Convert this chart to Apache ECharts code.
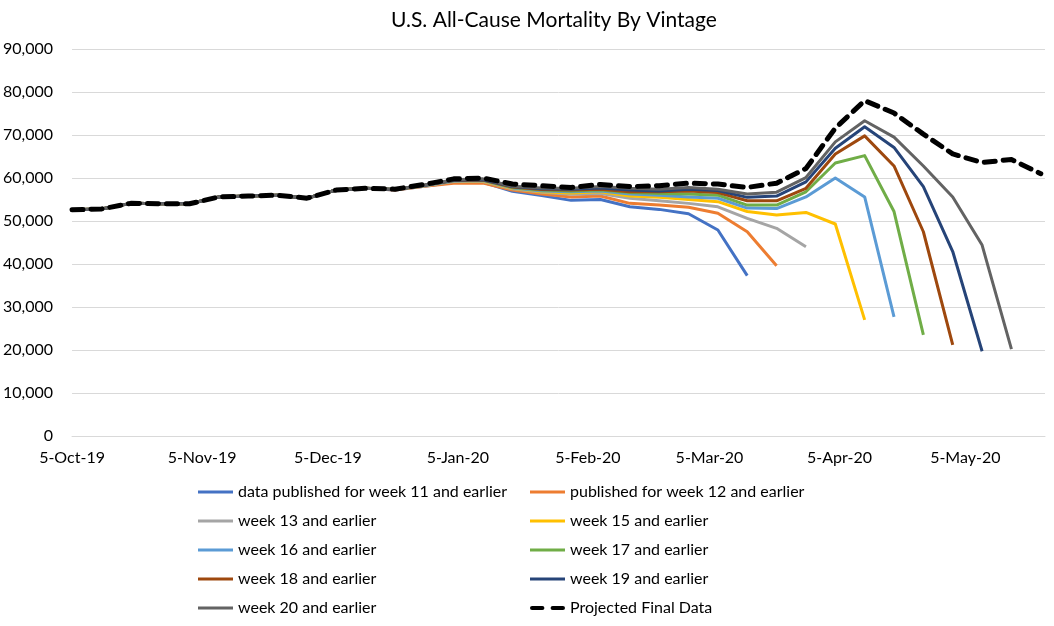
<!DOCTYPE html>
<html><head><meta charset="utf-8">
<script src="https://cdn.jsdelivr.net/npm/echarts@6/dist/echarts.min.js"></script>
<style>html,body{margin:0;padding:0;background:#fff}#c{width:1054px;height:626px}</style>
</head><body><div id="c"></div>
<script>
const weeks = ['2019-10-05','2019-10-12','2019-10-19','2019-10-26','2019-11-02','2019-11-09','2019-11-16','2019-11-23','2019-11-30','2019-12-07','2019-12-14','2019-12-21','2019-12-28','2020-01-04','2020-01-11','2020-01-18','2020-01-25','2020-02-01','2020-02-08','2020-02-15','2020-02-22','2020-02-29','2020-03-07','2020-03-14','2020-03-21','2020-03-28','2020-04-04','2020-04-11','2020-04-18','2020-04-25','2020-05-02','2020-05-09','2020-05-16','2020-05-23'];

const seriesNames = ['data published for week 11 and earlier','published for week 12 and earlier','week 13 and earlier','week 15 and earlier','week 16 and earlier','week 17 and earlier','week 18 and earlier','week 19 and earlier','week 20 and earlier','Projected Final Data'];

const week11 = [52600,52800,54100,54000,54000,55600,55800,56000,55300,57200,57600,57200,58100,59000,59000,56900,55900,54800,55000,53300,52700,51700,47900,37300,null,null,null,null,null,null,null,null,null,null];
const week12 = [52600,52800,54100,54000,54000,55600,55800,56000,55300,57200,57600,57200,58100,58800,58800,57200,56300,55600,55800,54100,53700,53200,51800,47500,39600,null,null,null,null,null,null,null,null,null];
const week13 = [52600,52800,54100,54000,54000,55600,55800,56000,55300,57200,57600,57300,58200,59200,59200,57500,56700,56200,56400,55300,54700,54100,53300,50600,48300,44000,null,null,null,null,null,null,null,null];
const week15 = [52600,52800,54100,54000,54000,55600,55800,56000,55300,57200,57600,57300,58200,59300,59300,57600,56800,56500,56800,55800,55500,55000,54500,52200,51400,52000,49300,27000,null,null,null,null,null,null];
const week16 = [52600,52800,54100,54000,54000,55600,55800,56000,55300,57200,57600,57300,58200,59300,59400,57700,57000,56800,57000,56300,56000,55600,55300,53000,52900,55600,60000,55600,27700,null,null,null,null,null];
const week17 = [52600,52800,54100,54000,54000,55600,55800,56000,55300,57200,57600,57300,58300,59400,59500,57800,57200,57000,57200,56600,56400,56300,56000,53700,53700,56800,63500,65200,52200,23500,null,null,null,null];
const week18 = [52600,52800,54100,54000,54000,55600,55800,56000,55300,57200,57600,57300,58300,59400,59500,57900,57300,57200,57400,56800,56800,57000,56600,54700,54700,57600,65600,69800,62800,47500,21200,null,null,null];
const week19 = [52600,52800,54100,54000,54000,55600,55800,56000,55300,57200,57600,57300,58300,59500,59600,58000,57500,57400,57700,57200,57000,57400,57100,55500,55800,59100,66900,71900,67100,58000,42900,19700,null,null];
const week20 = [52600,52800,54100,54000,54000,55600,55800,56000,55300,57200,57600,57300,58300,59600,59800,58100,57700,57600,58000,57600,57400,57800,57400,56300,56700,60100,68400,73300,69500,62800,55600,44400,20200,null];
const projected = [52600,52800,54100,54000,54000,55600,55800,56000,55300,57200,57600,57400,58500,59800,60000,58600,58200,57800,58500,58000,58200,58800,58600,57800,58800,62200,71600,78000,75100,70200,65600,63600,64300,61000];

const yTicks = [0,10000,20000,30000,40000,50000,60000,70000,80000,90000];
const xTickLabels = ['2019-10-05','2019-11-05','2019-12-05','2020-01-05','2020-02-05','2020-03-05','2020-04-05','2020-05-05'];
const xStart = '2019-10-05';
const xEnd = '2020-05-24';

const colors = ['#4472C4','#ED7D31','#A5A5A5','#FFC000','#5B9BD5','#70AD47','#9E480E','#264478','#636363','#000000'];
const allData = [week11,week12,week13,week15,week16,week17,week18,week19,week20,projected];

function utc(s){const p=s.split('-').map(Number);return Date.UTC(p[0],p[1]-1,p[2]);}
const T0 = utc(xStart);
function dayOf(s){return Math.round((utc(s)-T0)/86400000);}
const MON=['Jan','Feb','Mar','Apr','May','Jun','Jul','Aug','Sep','Oct','Nov','Dec'];
function fmtDay(v){const d=new Date(T0+v*86400000);return d.getUTCDate()+'-'+MON[d.getUTCMonth()]+'-'+String(d.getUTCFullYear()).slice(2);}

const FONT = 'Lato, "Open Sans", sans-serif';
const series = allData.map((arr,k)=>({
  name: seriesNames[k],
  type: 'line',
  data: arr.map((v,i)=>[dayOf(weeks[i]), v]),
  symbol: 'none',
  showSymbol: false,
  connectNulls: false,
  smooth: false,
  animation: false,
  lineStyle: k===9 ? {color:'#000', width:5, type:[11,8], cap:'round', join:'round'} : {color:colors[k], width:3, join:'round'},
  itemStyle: {color: colors[k]},
  emphasis: {disabled:true}
}));

const SOLID_ICON = 'path://M0,0H35V3H0Z';
const DASH_ICON = 'path://M2,0H12A2,2 0 0 1 12,4H2A2,2 0 0 1 2,0Z M22,0H32A2,2 0 0 1 32,4H22A2,2 0 0 1 22,0Z';

const chart = echarts.init(document.getElementById('c'), null, {renderer:'canvas'});
const legendCommon = {
  orient:'vertical', itemWidth:35, itemHeight:14, itemGap:9, padding:0, height:150,
  textStyle:{fontFamily:FONT, fontSize:16, color:'#000', lineHeight:20},
  itemStyle:{borderWidth:0},
  lineStyle:{width:0},
  selectedMode:false
};
const leftItems = [0,2,4,6,8].map(k=>({name:seriesNames[k], icon:SOLID_ICON}));
const rightItems = [1,3,5,7,9].map(k=>({name:seriesNames[k], icon:k===9?DASH_ICON:SOLID_ICON}));
chart.setOption({
  backgroundColor:'#fff',
  animation:false,
  color: colors,
  title:{text:'U.S. All-Cause Mortality By Vintage', left:386, top:5,
    textStyle:{fontFamily:FONT, fontSize:21, fontWeight:'normal', color:'#000'}},
  grid:{left:72, right:9, top:49, bottom:190},
  legend:[
    Object.assign({left:198, top:482, data:leftItems}, legendCommon),
    Object.assign({left:530, top:482, data:rightItems}, legendCommon)
  ],
  xAxis:{
    type:'value', min:0, max:dayOf(xEnd),
    axisLine:{show:true, lineStyle:{color:'#d9d9d9', width:1}},
    axisTick:{show:false},
    splitLine:{show:false},
    axisLabel:{customValues:xTickLabels.map(dayOf), formatter:fmtDay, fontFamily:FONT, fontSize:16, color:'#000', margin:14}
  },
  yAxis:{
    type:'value', min:yTicks[0], max:yTicks[yTicks.length-1], interval:10000,
    axisLine:{show:false}, axisTick:{show:false},
    splitLine:{show:true, lineStyle:{color:'#d9d9d9', width:1}},
    axisLabel:{fontFamily:FONT, fontSize:16, color:'#000', margin:19,
      formatter:v=>v.toLocaleString('en-US')}
  },
  series: series
});
</script></body></html>
